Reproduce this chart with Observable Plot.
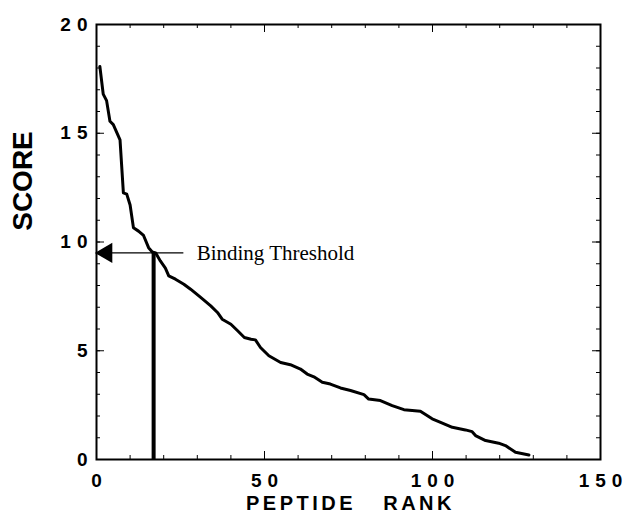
<!DOCTYPE html>
<html>
<head>
<meta charset="utf-8">
<script src="https://cdn.jsdelivr.net/npm/d3@7"></script>
<script src="https://cdn.jsdelivr.net/npm/@observablehq/plot@0.6"></script>
<style>
  html, body { margin: 0; padding: 0; background: #fff; }
  #chart svg { display: block; }
  .ticklab text { letter-spacing: 6px; }
  .axtitle text { letter-spacing: 3.5px; }
</style>
</head>
<body>
<div id="chart"></div>
<script>
// Peptide rank vs score
const rank = [1, 2, 3, 4, 5, 7, 8, 9, 10, 11, 12.5, 14, 15.5, 16.6, 17.6, 19, 20.5, 21.5, 23.5, 26, 28, 31, 34, 36, 37.4, 40, 42, 44, 46, 47.3, 48.8, 51.3, 54.8, 57.7, 60.7, 62.7, 64.7, 67.2, 69.6, 72.6, 75.6, 79.6, 81, 84.5, 88, 91.5, 96.4, 99.9, 102.4, 105.9, 109.8, 111.8, 112.8, 115.8, 119.7, 121.7, 124.7, 128.7];
const score = [18.07, 16.8, 16.5, 15.55, 15.4, 14.7, 12.26, 12.2, 11.7, 10.65, 10.5, 10.3, 9.74, 9.54, 9.5, 9.13, 8.8, 8.44, 8.29, 8.06, 7.83, 7.45, 7.06, 6.76, 6.45, 6.22, 5.92, 5.61, 5.53, 5.5, 5.15, 4.77, 4.46, 4.36, 4.16, 3.93, 3.8, 3.55, 3.47, 3.29, 3.17, 2.98, 2.78, 2.71, 2.48, 2.29, 2.22, 1.87, 1.71, 1.48, 1.36, 1.28, 1.1, 0.87, 0.75, 0.64, 0.33, 0.21];

const thresholdScore = [9.5];
const thresholdRank = [17];
const arrowFrom = [26];
const annotation = ["Binding Threshold"];
const annotationRank = [29.8];

const xTickLabels = [0, 50, 100, 150];
const yTickLabels = [0, 5, 10, 15, 20];
const xMinor = d3.range(0, 151, 10);
const yMinor = d3.range(0, 21, 1);
const xTitle = ["PEPTIDE\u00a0\u00a0\u00a0RANK"];
const yTitle = ["SCORE"];

const data = rank.map((r, i) => ({rank: r, score: score[i]}));
const sans = "Liberation Sans, Arial, Helvetica, sans-serif";

const W = 628, H = 516, ML = 96, MR = 28, MT = 24, MB = 57;
const xDom = [0, 150], yDom = [0, 20];
// tick lengths in pixels, converted to data units for inward rules
const pxX = (xDom[1] - xDom[0]) / (W - ML - MR);
const pxY = (yDom[1] - yDom[0]) / (H - MT - MB);
const minorLen = 4, majorLen = 8;

function xTicks(values, len) {
  return [
    Plot.ruleX(values, {x: d => d, y1: yDom[0], y2: yDom[0] + len * pxY, strokeWidth: 1}),
    Plot.ruleX(values, {x: d => d, y1: yDom[1], y2: yDom[1] - len * pxY, strokeWidth: 1})
  ];
}
function yTicks(values, len) {
  return [
    Plot.ruleY(values, {y: d => d, x1: xDom[0], x2: xDom[0] + len * pxX, strokeWidth: 1}),
    Plot.ruleY(values, {y: d => d, x1: xDom[1], x2: xDom[1] - len * pxX, strokeWidth: 1})
  ];
}

const chart = Plot.plot({
  width: W,
  height: H,
  marginLeft: ML,
  marginRight: MR,
  marginTop: MT,
  marginBottom: MB,
  style: {fontFamily: sans, color: "#000", background: "#fff"},
  x: {domain: xDom},
  y: {domain: yDom},
  marks: [
    ...xTicks(xMinor, minorLen),
    ...xTicks(xTickLabels, majorLen),
    ...yTicks(yMinor, minorLen),
    ...yTicks(yTickLabels, majorLen),
    // tick labels
    Plot.axisX(xTickLabels, {anchor: "bottom", tickSize: 0, tickPadding: 14, dx: 3, label: null, fontSize: 19, fontWeight: "bold", className: "ticklab"}),
    Plot.axisY(yTickLabels, {anchor: "left", tickSize: 0, tickPadding: 3, label: null, fontSize: 19, fontWeight: "bold", className: "ticklab"}),
    Plot.frame({strokeWidth: 2}),
    // score curve
    Plot.line(data, {x: "rank", y: "score", strokeWidth: 3, strokeLinejoin: "round"}),
    // threshold marker
    Plot.ruleX(thresholdRank, {x: d => d, y1: 0, y2: thresholdScore[0], strokeWidth: 4}),
    Plot.ruleY(thresholdScore, {y: d => d, x1: 0, x2: arrowFrom[0], strokeWidth: 1.2}),
    Plot.dot(thresholdScore, {x: 0, y: d => d, symbol: "triangle", r: 7.5, rotate: -90, fill: "#000", stroke: "none", dx: 10}),
    Plot.text(annotation, {x: annotationRank[0], y: thresholdScore[0], text: d => d, textAnchor: "start", lineAnchor: "middle", fontFamily: "Liberation Serif, Times New Roman, serif", fontSize: 21, fill: "#000"}),
    // axis titles
    Plot.text(xTitle, {text: d => d, frameAnchor: "bottom", lineAnchor: "middle", dy: 44, dx: 2, fontSize: 20, fontWeight: "bold", className: "axtitle"}),
    Plot.text(yTitle, {text: d => d, frameAnchor: "left", textAnchor: "middle", rotate: -90, dx: -73, dy: -61, fontSize: 28, fontWeight: "bold"})
  ]
});
document.getElementById("chart").appendChild(chart);
</script>
</body>
</html>
